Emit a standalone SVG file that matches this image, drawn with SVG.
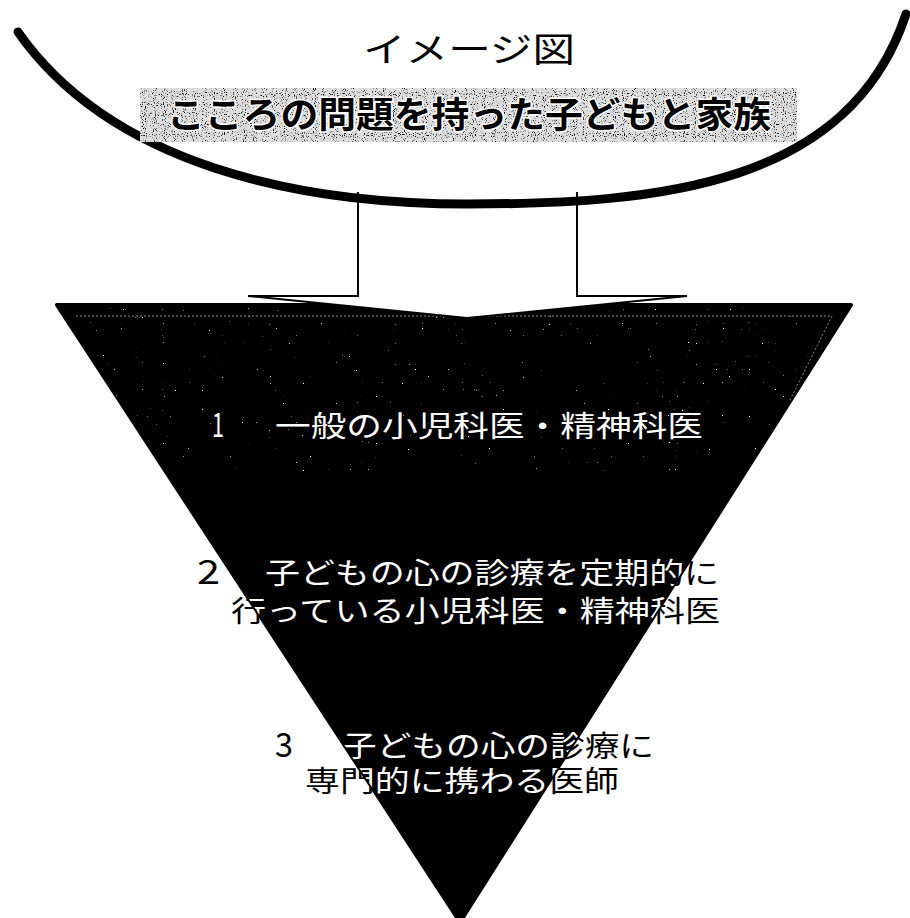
<svg xmlns="http://www.w3.org/2000/svg" xmlns:xlink="http://www.w3.org/1999/xlink" width="910" height="918" viewBox="0 0 910 918">
  <style>
    .jp { font-family: "Noto Sans CJK JP", "Noto Sans", sans-serif; }
    .lvl { font-size: 29px; }
    .num { font-size: 34px; }
    .outline { fill: none; stroke: #000; stroke-width: 2; stroke-linejoin: miter; }
  </style>
  <defs>
    <filter id="grain" x="0%" y="0%" width="100%" height="100%">
      <feTurbulence type="fractalNoise" baseFrequency="0.9" numOctaves="1" seed="4" result="n"/>
      <feColorMatrix in="n" type="matrix" values="0 0 0 0 0  0 0 0 0 0  0 0 0 0 0  6 0 0 0 -3.4"/>
    </filter>
    <filter id="specks" x="0%" y="0%" width="100%" height="100%">
      <feTurbulence type="fractalNoise" baseFrequency="0.85" numOctaves="1" seed="11" result="n"/>
      <feColorMatrix in="n" type="matrix" values="0 0 0 0 1  0 0 0 0 1  0 0 0 0 1  20 0 0 0 -15.2"/>
    </filter>
    <clipPath id="triClip">
      <polygon points="57,305 851,305 460,922"/>
    </clipPath>
    <g id="labels" class="jp">
      <text class="num" x="212" y="437" textLength="12" lengthAdjust="spacingAndGlyphs">1</text>
      <text class="lvl" x="275" y="437" textLength="428" lengthAdjust="spacingAndGlyphs">一般の小児科医・精神科医</text>
      <text class="num" x="197" y="584" textLength="23" lengthAdjust="spacingAndGlyphs">2</text>
      <text class="lvl" x="265" y="584" textLength="454" lengthAdjust="spacingAndGlyphs">子どもの心の診療を定期的に</text>
      <text class="lvl" x="231" y="622" textLength="489" lengthAdjust="spacingAndGlyphs">行っている小児科医・精神科医</text>
      <text class="num" x="275" y="757" textLength="18" lengthAdjust="spacingAndGlyphs">3</text>
      <text class="lvl" x="342" y="757" textLength="312" lengthAdjust="spacingAndGlyphs">子どもの心の診療に</text>
      <text class="lvl" x="305" y="792" textLength="314" lengthAdjust="spacingAndGlyphs">専門的に携わる医師</text>
    </g>
  </defs>

  <rect width="910" height="918" fill="#fff"/>

  <!-- Funnel (inverted triangle) -->
  <g id="funnel">
    <polygon points="57,305 851,305 460,922" fill="#000" stroke="#000" stroke-width="4" stroke-linejoin="round"/>
    <rect x="57" y="305" width="794" height="170" clip-path="url(#triClip)" filter="url(#specks)" fill="#fff"/>
    <polyline points="76,316 832,316 790,400" fill="none" stroke="#8a8a8a" stroke-width="1" stroke-dasharray="2 2"/>
  </g>

  <!-- Connector: hollow block arrow -->
  <g id="connectors">
    <path d="M358,192 V296 H248 L467,318 L687,296 H577 V192" fill="#fff" stroke="none"/>
    <path class="outline" d="M358,192 V296 H248 L467,318 L687,296 H577 V192"/>
  </g>

  <!-- Top bowl: children and families -->
  <g id="bowl">
    <path d="M18,32 C112,166 300,204 468,204 C660,204 850,185 906,14" fill="none" stroke="#000" stroke-width="9" stroke-linecap="round"/>
    <text class="jp" x="363" y="62" font-size="34" textLength="212" lengthAdjust="spacingAndGlyphs" fill="#000">イメージ図</text>
    <g id="band">
      <rect x="140" y="88" width="657" height="54" fill="#dedede"/>
      <rect x="140" y="88" width="657" height="54" fill="#000" filter="url(#grain)"/>
      <text class="jp" x="167" y="128" font-size="36" font-weight="700" textLength="604" lengthAdjust="spacingAndGlyphs" fill="#000" stroke="#fff" stroke-width="3" paint-order="stroke" stroke-linejoin="round">こころの問題を持った子どもと家族</text>
    </g>
  </g>

  <!-- Level labels: black outside the funnel, white inside -->
  <g id="levels">
    <use xlink:href="#labels" href="#labels" fill="#000"/>
    <g clip-path="url(#triClip)">
      <use xlink:href="#labels" href="#labels" fill="#fff"/>
    </g>
  </g>
</svg>
